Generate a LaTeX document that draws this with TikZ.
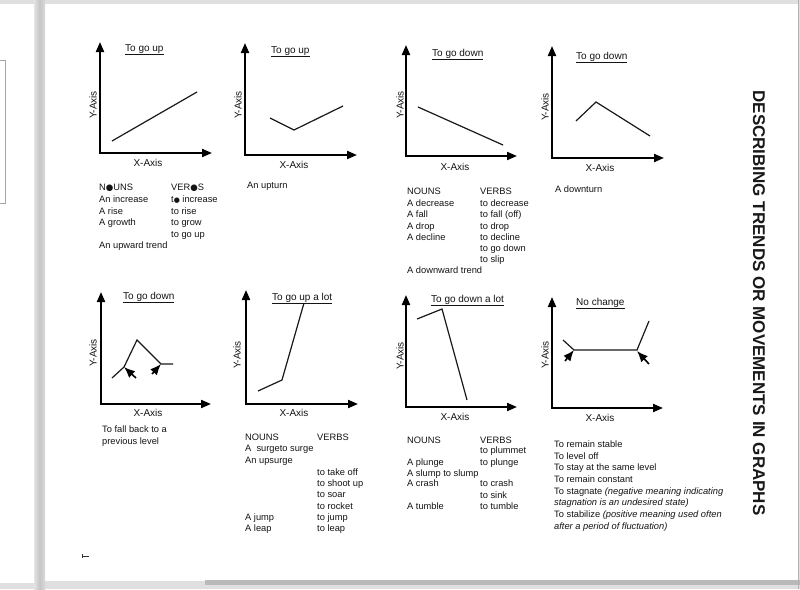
\documentclass[tikz,border=0pt]{standalone}
\usepackage{fontspec}
\setmainfont{Liberation Sans}
\newfontfamily\symfont{DejaVu Sans}
\usetikzlibrary{arrows.meta}
\newcommand{\blob}{{\symfont\fontsize{8.6}{8.6}\selectfont ●}}
\newcommand{\sblob}{{\symfont\fontsize{7}{7}\selectfont ●}}
\begin{document}
\begin{tikzpicture}[x=1pt,y=-1pt,
  axis/.style={line width=2pt,draw=black,{Triangle[length=10pt,width=8pt]}-{Triangle[length=10pt,width=8pt]}},
  dataline/.style={line width=1.2pt,draw=black!90,line join=miter},
  pointer/.style={line width=1.6pt,draw=black,-{Latex[length=11pt,width=9pt]}},
  txt/.style={anchor=base west,inner sep=0pt,font=\fontsize{9.3}{11}\selectfont,text=black!92},
  ttl/.style={anchor=base west,inner sep=0pt,font=\fontsize{10}{12}\selectfont,text=black!92},
  xlab/.style={inner sep=0pt,font=\fontsize{10}{12}\selectfont,text=black!92},
  ylab/.style={inner sep=0pt,rotate=90,font=\fontsize{10}{12}\selectfont,text=black!92},
]
\useasboundingbox (0,0) rectangle (800,589);
% background / page frame
\fill[gray!25] (0,0) rectangle (800,589);
\fill[white] (0,4) rectangle (34,583);
\fill[white] (45,4) rectangle (798,581);
\shade[left color=gray!22,right color=gray!30,middle color=gray!45] (34,0) rectangle (45,589);
\fill[gray!55] (205,580) rectangle (800,585);
\draw[gray!60,line width=0.8pt] (798,0) -- (798,589);
\draw[gray!70,line width=0.7pt] (-2,60) rectangle (5,203);
\draw[black!80,line width=1pt] (82,556) -- (89,556);
\draw[black!80,line width=0.8pt] (82,554) -- (82,558);

% ---------- Panel 1 ----------
\draw[axis] (100,42) -- (100,153) -- (212,153);
\draw[dataline] (112,141) -- (197,92);
\node[ttl] (t1) at (125,51) {\underline{To go up}};
\node[ylab] (y1) at (93,105) {Y-Axis};
\node[xlab] (x1) at (148,163) {X-Axis};
\node[txt] (a1) at (99,190.5) {N\blob UNS};
\node[txt] (b1) at (171,190.5) {VER\blob S};
\node[txt] (a2) at (99,202.5) {An increase};
\node[txt] (b2) at (171,202.5) {t\sblob\ increase};
\node[txt] (a3) at (99,214) {A rise};
\node[txt] (b3) at (171,214) {to rise};
\node[txt] (a4) at (99,225.5) {A growth};
\node[txt] (b4) at (171,225.5) {to grow};
\node[txt] (b5) at (171,237) {to go up};
\node[txt] (a6) at (99,248.5) {An upward trend};

% ---------- Panel 2 ----------
\draw[axis] (245,43) -- (245,155) -- (357,155);
\draw[dataline] (270,118) -- (294,130) -- (343,106);
\node[ttl] (t2) at (271,53) {\underline{To go up}};
\node[ylab] (y2) at (238,105) {Y-Axis};
\node[xlab] (x2) at (294,165) {X-Axis};
\node[txt] (c1) at (247,188.5) {An upturn};

% ---------- Panel 3 ----------
\draw[axis] (406,45) -- (406,156) -- (517,156);
\draw[dataline] (418,107) -- (503,145);
\node[ttl] (t3) at (432,56) {\underline{To go down}};
\node[ylab] (y3) at (400,105) {Y-Axis};
\node[xlab] (x3) at (455,167) {X-Axis};
\node[txt] (d1) at (407,194.5) {NOUNS};
\node[txt] (e1) at (480,194.5) {VERBS};
\node[txt] (d2) at (407,206.5) {A decrease};
\node[txt] (e2) at (480,206.5) {to decrease};
\node[txt] (d3) at (407,217.5) {A fall};
\node[txt] (e3) at (480,217.5) {to fall (off)};
\node[txt] (d4) at (407,229.5) {A drop};
\node[txt] (e4) at (480,229.5) {to drop};
\node[txt] (d5) at (407,240.5) {A decline};
\node[txt] (e5) at (480,240.5) {to decline};
\node[txt] (e6) at (480,251.5) {to go down};
\node[txt] (e7) at (480,262.5) {to slip};
\node[txt] (d8) at (407,273.5) {A downward trend};

% ---------- Panel 4 ----------
\draw[axis] (552,46) -- (552,158) -- (664,158);
\draw[dataline] (576,121) -- (596,102) -- (650,136);
\node[ttl] (t4) at (576,59) {\underline{To go down}};
\node[ylab] (y4) at (545,107) {Y-Axis};
\node[xlab] (x4) at (600,168) {X-Axis};
\node[txt] (f1) at (555,192.5) {A downturn};

% ---------- Panel 5 ----------
\draw[axis] (101,292) -- (101,404) -- (211,404);
\draw[dataline] (112,378) -- (124,367) -- (137,340) -- (161,364) -- (173,364);
\coordinate (k1) at (124,367);
\coordinate (k2) at (161,364);
\draw[pointer] (136,378) -- (k1);
\draw[pointer] (152,374) -- (k2);
\node[ttl] (t5) at (123,299) {\underline{To go down}};
\node[ylab] (y5) at (93,353) {Y-Axis};
\node[xlab] (x5) at (148,413) {X-Axis};
\node[txt] (g1) at (102,432.5) {To fall back to a};
\node[txt] (g2) at (102,444.5) {previous level};

% ---------- Panel 6 ----------
\draw[axis] (246,290) -- (246,404) -- (358,404);
\draw[dataline] (258,391) -- (282,380) -- (304,303);
\node[ttl] (t6) at (272,300) {\underline{To go up a lot}};
\node[ylab] (y6) at (237,355) {Y-Axis};
\node[xlab] (x6) at (294,413) {X-Axis};
\node[txt] (h1) at (245,440.5) {NOUNS};
\node[txt] (i1) at (317,440.5) {VERBS};
\node[txt] (h2) at (245,451.5) {A\ \ surgeto surge};
\node[txt] (h3) at (245,463) {An upsurge};
\node[txt] (i4) at (317,475) {to take off};
\node[txt] (i5) at (317,486.5) {to shoot up};
\node[txt] (i6) at (317,497.5) {to soar};
\node[txt] (i7) at (317,509) {to rocket};
\node[txt] (h8) at (245,520.5) {A jump};
\node[txt] (i8) at (317,520.5) {to jump};
\node[txt] (h9) at (245,531.5) {A leap};
\node[txt] (i9) at (317,531.5) {to leap};

% ---------- Panel 7 ----------
\draw[axis] (406,295) -- (406,407) -- (517,407);
\draw[dataline] (417,319) -- (442,309) -- (467,400);
\node[ttl] (t7) at (431,302) {\underline{To go down a lot}};
\node[ylab] (y7) at (400,356) {Y-Axis};
\node[xlab] (x7) at (455,417) {X-Axis};
\node[txt] (m1) at (407,443.5) {NOUNS};
\node[txt] (n1) at (480,443.5) {VERBS};
\node[txt] (n2) at (480,453.5) {to plummet};
\node[txt] (m3) at (407,465.5) {A plunge};
\node[txt] (n3) at (480,465.5) {to plunge};
\node[txt] (m4) at (407,476.5) {A slump to slump};
\node[txt] (m5) at (407,486.5) {A crash};
\node[txt] (n5) at (480,486.5) {to crash};
\node[txt] (n6) at (480,498.5) {to sink};
\node[txt] (m7) at (407,509.5) {A tumble};
\node[txt] (n7) at (480,509.5) {to tumble};

% ---------- Panel 8 ----------
\draw[axis] (552,297) -- (552,408) -- (663,408);
\draw[dataline] (563,340) -- (574,350) -- (637,350) -- (649,321);
\coordinate (k3) at (574,350);
\coordinate (k4) at (637,351);
\draw[pointer] (565,361) -- (k3);
\draw[pointer] (649,364) -- (k4);
\node[ttl] (t8) at (576,305) {\underline{No change}};
\node[ylab] (y8) at (545,355) {Y-Axis};
\node[xlab] (x8) at (600,418) {X-Axis};
\node[txt] (p1) at (554,447.5) {To remain stable};
\node[txt] (p2) at (554,459.5) {To level off};
\node[txt] (p3) at (554,470.5) {To stay at the same level};
\node[txt] (p4) at (554,482.5) {To remain constant};
\node[txt] (p5) at (554,494.5) {To stagnate \textit{(negative meaning indicating}};
\node[txt] (p6) at (554,505.5) {\textit{stagnation is an undesired state)}};
\node[txt] (p7) at (554,517.5) {To stabilize \textit{(positive meaning used often}};
\node[txt] (p8) at (554,529.5) {\textit{after a period of fluctuation)}};

% ---------- Vertical title ----------
\node[inner sep=0pt,rotate=-90,font=\bfseries\fontsize{17}{20}\selectfont,text=black!90] (title) at (759,303) {DESCRIBING TRENDS OR MOVEMENTS IN GRAPHS};
\end{tikzpicture}
\end{document}
